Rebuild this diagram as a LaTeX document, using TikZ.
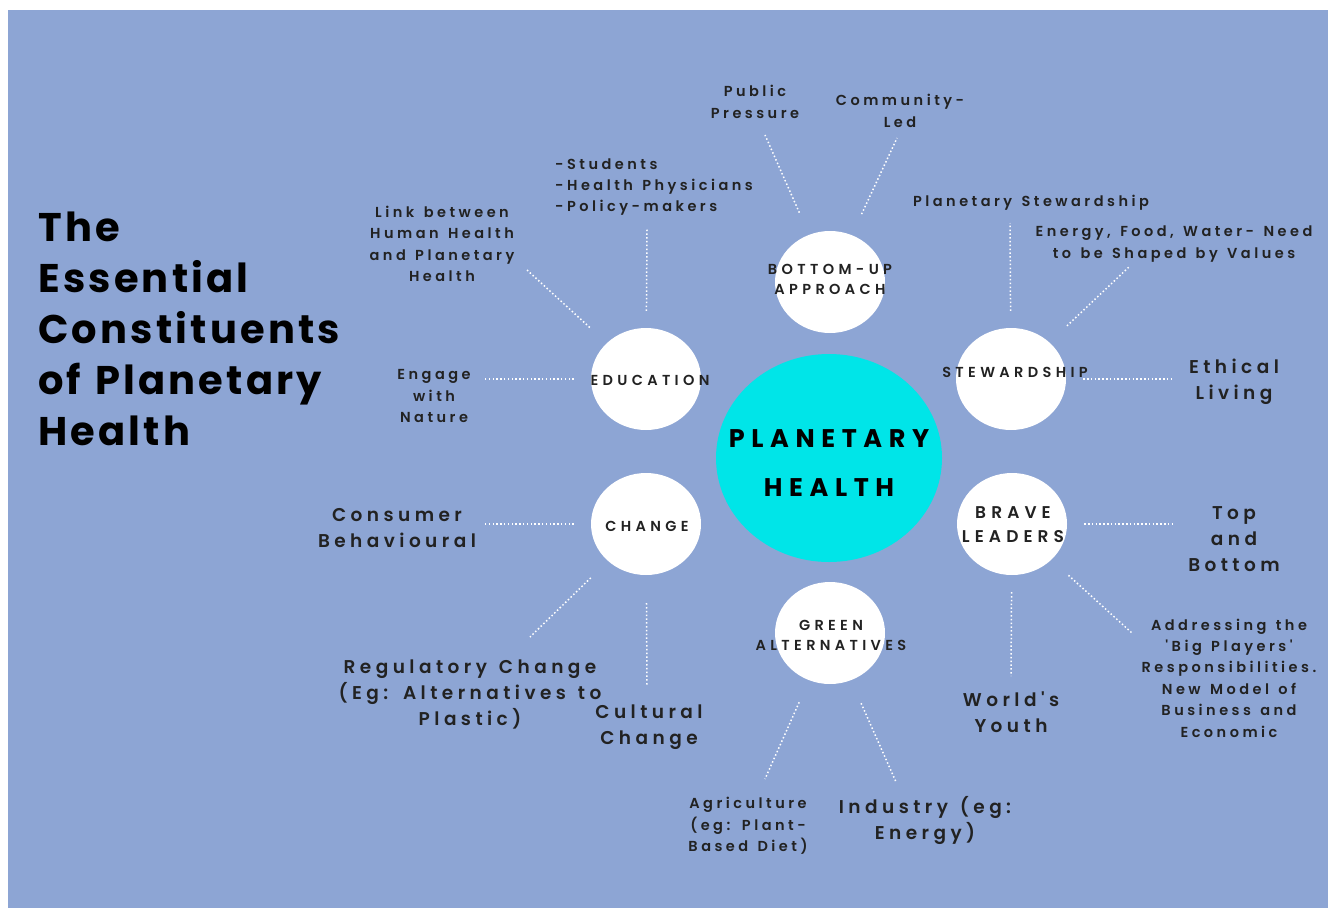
\documentclass[tikz,border=0pt]{standalone}
\usepackage{fontspec}
\setmainfont{Poppins}
\newfontfamily\labelfont[LetterSpace=24,WordSpace=1.35]{Poppins SemiBold}
\newfontfamily\hubfont[LetterSpace=30]{Poppins SemiBold}
\newfontfamily\corefont[LetterSpace=26]{Poppins}
\newfontfamily\titlefont[LetterSpace=8,WordSpace=1.2]{Poppins}
\usetikzlibrary{shapes.geometric}
\definecolor{skyback}{HTML}{8DA5D4}
\definecolor{coreteal}{HTML}{00E5E8}
\definecolor{inkgray}{HTML}{222222}

\begin{document}
\begin{tikzpicture}[x=1pt,y=-1pt,
	hub/.style={ellipse,fill=white,minimum width=110pt,minimum height=102pt,inner sep=0pt},
	hubtext/.style={font=\hubfont\fontsize{14.5}{20}\selectfont,text=inkgray,align=center,inner sep=0pt},
	small/.style={font=\labelfont\fontsize{14.5}{21.4}\selectfont,text=inkgray,align=center,inner sep=0pt},
	big/.style={font=\labelfont\fontsize{18.5}{26}\selectfont,text=inkgray,align=center,inner sep=0pt},
	dots/.style={white,line width=1.5pt,dash pattern=on 1.5pt off 2.3pt,shorten <=17pt}]
	\useasboundingbox (0,0) rectangle (1335,910);
	\fill[white] (0,0) rectangle (1335,910);
	\fill[skyback] (8,10) rectangle (1328,908);

	% title
	\node[anchor=west,align=left,inner sep=0pt,text=black,
		font=\titlefont\bfseries\fontsize{40}{51}\selectfont] (title) at (38,329)
		{The\\Essential\\Constituents\\of Planetary\\Health};

	% centre and hubs
	\node[ellipse,fill=coreteal,minimum width=226pt,minimum height=208pt] (core) at (829,458) {};
	\node[font=\corefont\bfseries\fontsize{25.5}{49}\selectfont,align=center,inner sep=0pt] (coretext) at (829,463) {PLANETARY\\HEALTH};
	\node[hub] (bu) at (830,282) {};
	\node[hub] (edu) at (646,379) {};
	\node[hub] (stew) at (1011,379) {};
	\node[hub] (chg) at (646,524) {};
	\node[hub] (brave) at (1012,524) {};
	\node[hub] (green) at (830,633) {};
	\node[hubtext] (butext) at (830,279) {BOTTOM-UP\\APPROACH};
	\node[hubtext] (edutext) at (650,380) {EDUCATION};
	\node[hubtext] (stewtext) at (1015,372) {STEWARDSHIP};
	\node[hubtext] (chgtext) at (647,526) {CHANGE};
	\node[hubtext,font=\hubfont\fontsize{17}{24}\selectfont] (bravetext) at (1013,525) {BRAVE\\LEADERS};
	\node[hubtext] (greentext) at (831,635) {GREEN\\ALTERNATIVES};

	% labels
	\node[small] (pp) at (755,102) {Public\\Pressure};
	\node[small] (cl) at (900,111) {Community-\\Led};
	\node[small,align=left,anchor=west] (stud) at (555,187) {-Students\\-Health Physicians\\-Policy-makers};
	\node[small] (link) at (442,244) {Link between\\Human Health\\and Planetary\\Health};
	\node[small] (engage) at (434,396) {Engage\\with\\Nature};
	\node[small] (ps) at (1031,203) {Planetary Stewardship};
	\node[small] (efw) at (1174,244) {Energy, Food, Water- Need\\to be Shaped by Values};
	\node[big] (eth) at (1234,382) {Ethical\\Living};
	\node[big] (cons) at (397,528) {Consumer\\Behavioural};
	\node[big] (topb) at (1234,539) {Top\\and\\Bottom};
	\node[big] (reg) at (470,694) {Regulatory Change\\(Eg: Alternatives to\\Plastic)};
	\node[big] (cult) at (649,727) {Cultural\\Change};
	\node[big] (youth) at (1011,712) {World's\\Youth};
	\node[small] (addr) at (1229,678) {Addressing the\\'Big Players'\\Responsibilities.\\New Model of\\Business and\\Economic};
	\node[small] (agri) at (748,826) {Agriculture\\(eg: Plant-\\Based Diet)};
	\node[big] (ind) at (925,820) {Industry (eg:\\Energy)};

	% free ends of the dotted links
	\coordinate (pp-end) at (765,135);
	\coordinate (cl-end) at (897,138);
	\coordinate (stud-end) at (647,229);
	\coordinate (link-end) at (527,270);
	\coordinate (engage-end) at (483,379);
	\coordinate (ps-end) at (1010,223);
	\coordinate (efw-end) at (1130,266);
	\coordinate (eth-end) at (1174,379);
	\coordinate (cons-end) at (484,524);
	\coordinate (reg-end) at (530,637);
	\coordinate (cult-end) at (647,686);
	\coordinate (agri-end) at (765,779);
	\coordinate (ind-end) at (896,782);
	\coordinate (youth-end) at (1011,676);
	\coordinate (topb-end) at (1174,524);
	\coordinate (addr-end) at (1132,633);

	\draw[dots,shorten <=24pt] (bu) -- (pp-end);
	\draw[dots,shorten <=23pt] (bu) -- (cl-end);
	\draw[dots] (edu) -- (stud-end);
	\draw[dots,shorten <=23pt] (edu) -- (link-end);
	\draw[dots] (edu) -- (engage-end);
	\draw[dots] (stew) -- (ps-end);
	\draw[dots,shorten <=24pt] (stew) -- (efw-end);
	\draw[dots] (stew) -- (eth-end);
	\draw[dots] (chg) -- (cons-end);
	\draw[dots,shorten <=24pt] (chg) -- (reg-end);
	\draw[dots,shorten <=28pt] (chg) -- (cult-end);
	\draw[dots,shorten <=24pt] (green) -- (agri-end);
	\draw[dots,shorten <=25pt] (green) -- (ind-end);
	\draw[dots] (brave) -- (youth-end);
	\draw[dots] (brave) -- (topb-end);
	\draw[dots,shorten <=23pt] (brave) -- (addr-end);
\end{tikzpicture}
\end{document}
